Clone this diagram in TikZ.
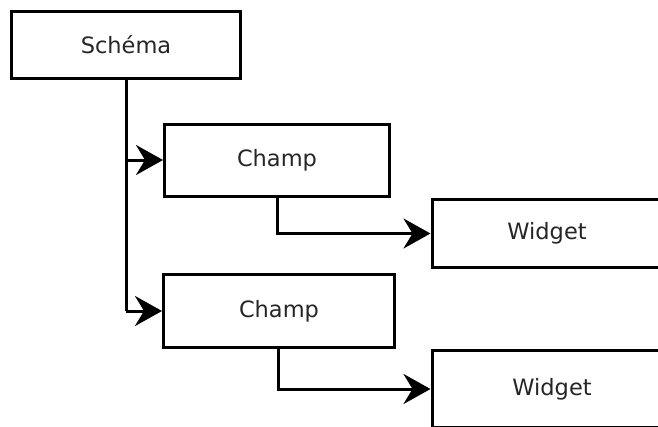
\documentclass[tikz,border=0pt]{standalone}
\usepackage{fontspec}
\setmainfont{DejaVu Sans}
\usetikzlibrary{arrows.meta}
\begin{document}
\begin{tikzpicture}[x=1pt,y=-1pt,
  box/.style={draw=black,line width=3pt,fill=white,inner sep=0pt,
    font=\fontsize{22.5}{26}\selectfont,text=black!85},
  conn/.style={line width=3pt,-{Stealth[length=27pt,width=30pt,inset=9pt]}},
  plain/.style={line width=3pt}]
\clip (0,0) rectangle (658,426);
\fill[white] (0,0) rectangle (658,426);
\node[box,minimum width=229pt,minimum height=67pt] (schema) at (126,45) {Schéma};
\node[box,minimum width=225pt,minimum height=72pt] (champA) at (277,160) {Champ};
\node[box,minimum width=231pt,minimum height=73pt] (champB) at (279,311) {Champ};
\node[box,minimum width=240pt,minimum height=68pt] (widA) at (552,233.5) {\hspace{-10pt}Widget};
\node[box,minimum width=240pt,minimum height=77pt] (widB) at (552,389) {Widget};
\coordinate (trunk) at (126,311);
\draw[plain] (schema.south -| trunk) -- (trunk);
\draw[conn] (schema.south -| trunk) |- (champA.west);
\draw[conn] (trunk) -- (champB.west);
\draw[conn] (champA.south) |- (widA.west);
\draw[conn] (champB.south -| 278,0) |- (widB.west);
\end{tikzpicture}
\end{document}
